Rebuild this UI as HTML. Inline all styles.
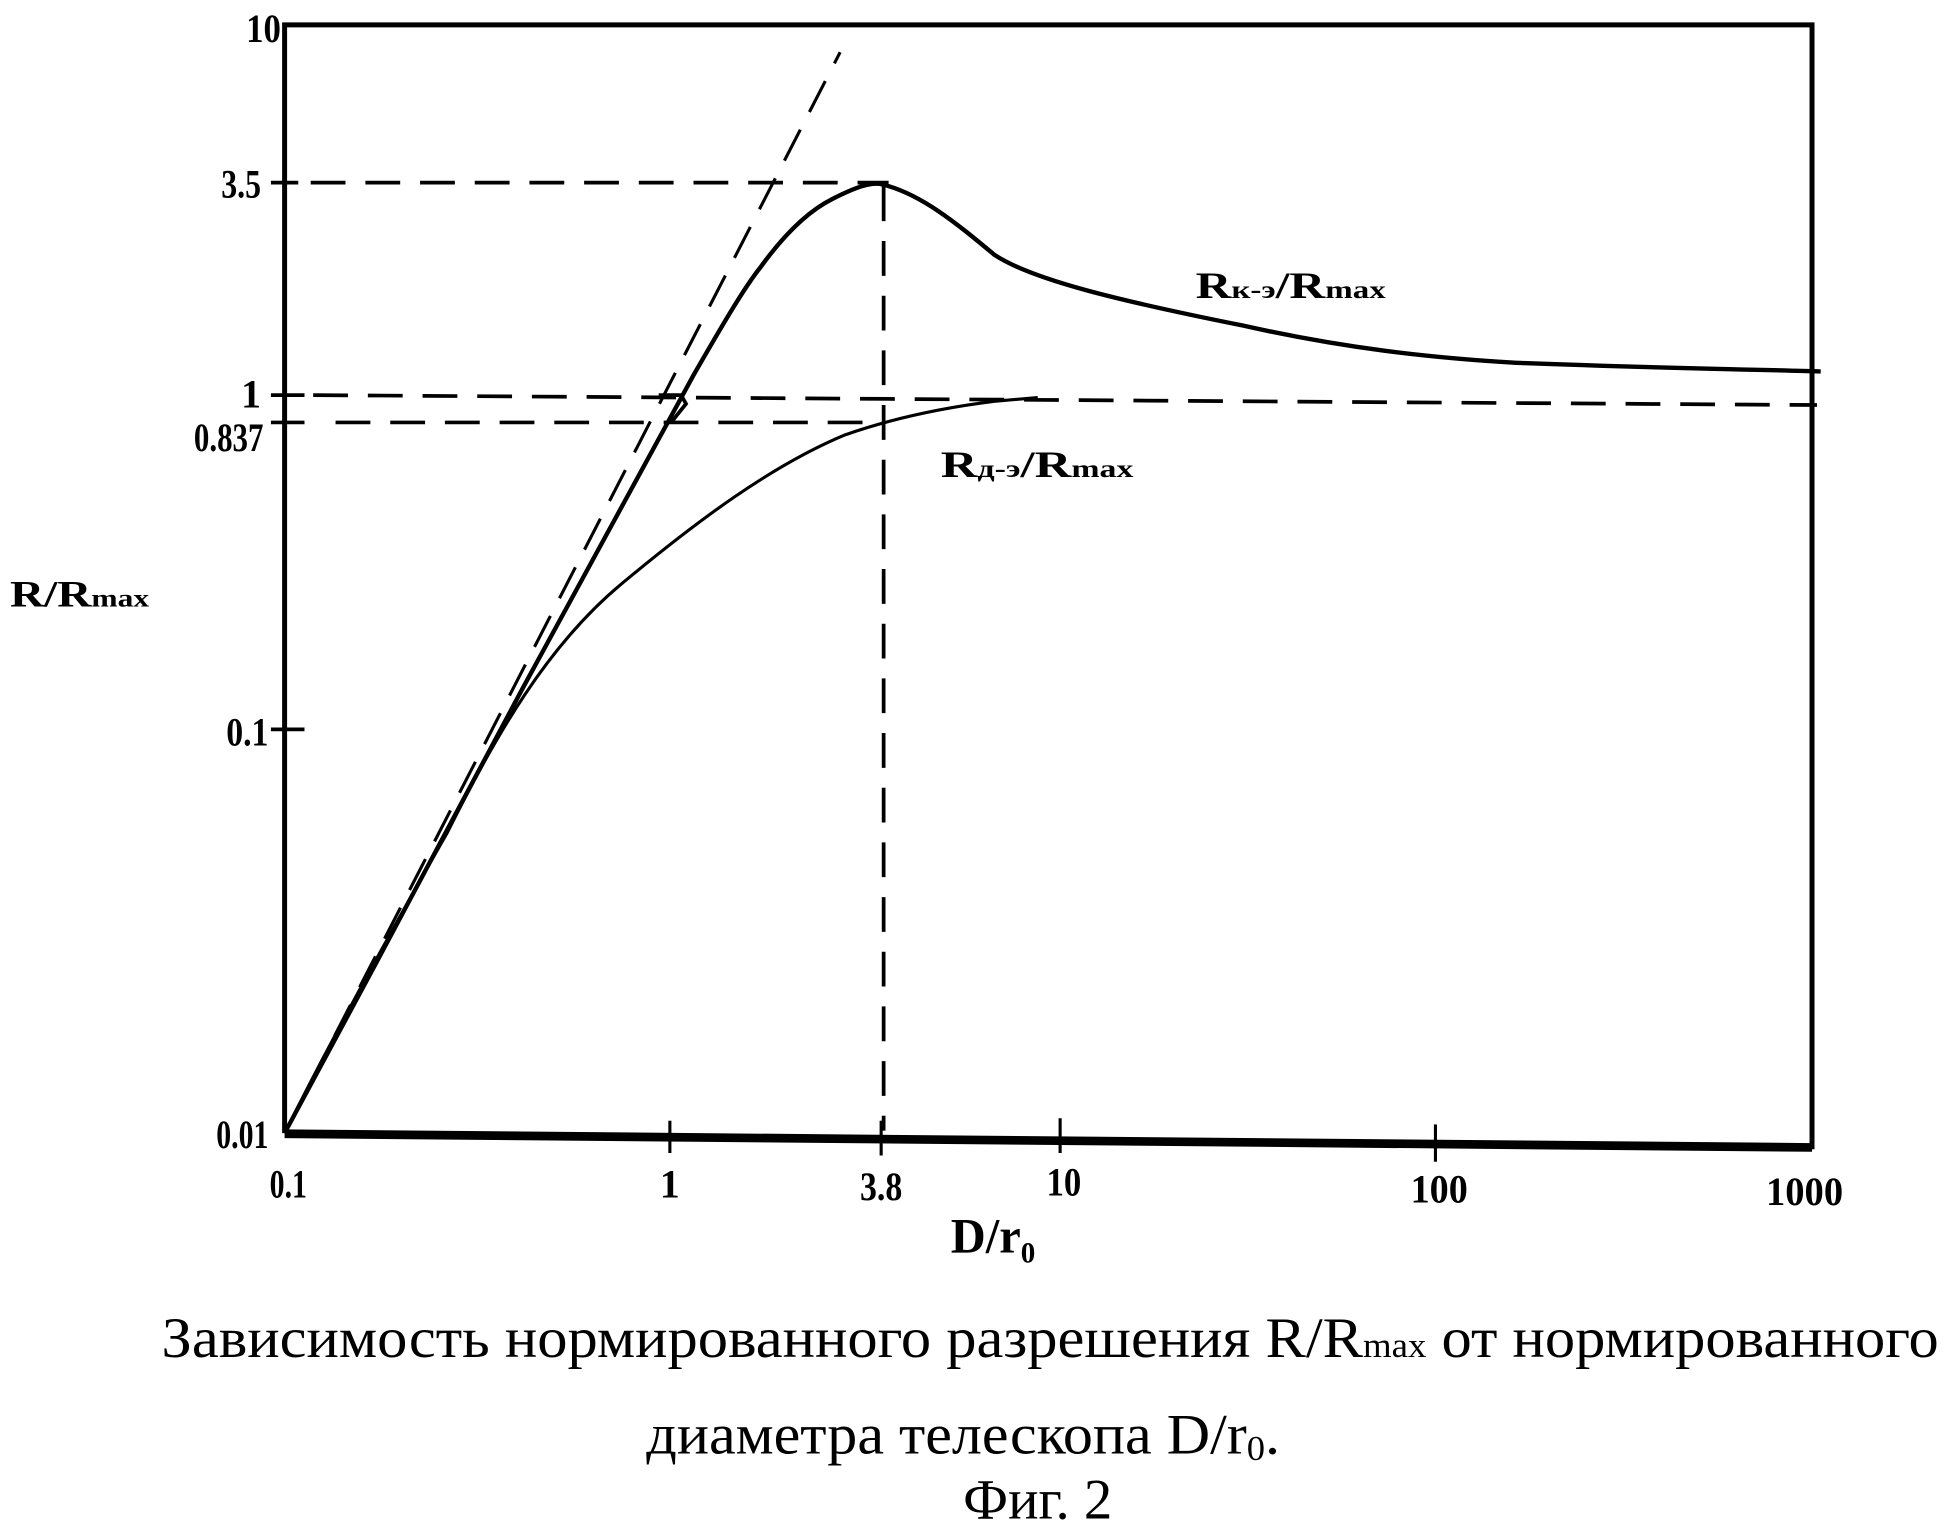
<!DOCTYPE html>
<html><head><meta charset="utf-8"><style>
html,body{margin:0;padding:0;background:#fff;}
svg{display:block;}
text{font-family:"Liberation Serif","DejaVu Serif",serif;fill:#000;}
.b{font-weight:bold;}
</style></head><body>
<svg width="1945" height="1527" viewBox="0 0 1565 1229" preserveAspectRatio="none" xmlns="http://www.w3.org/2000/svg">
<rect width="1565" height="1229" fill="#fff"/>
<polyline points="229,912 229,20 1458,20 1458,925" fill="none" stroke="#000" stroke-width="4"/>
<polygon points="229,909 1458,920 1458,927 229,916" fill="#000"/>
<g stroke="#000" stroke-width="2.5">
<line x1="539" y1="902" x2="539" y2="928"/>
<line x1="709" y1="902" x2="709" y2="930"/>
<line x1="853" y1="900" x2="853" y2="928"/>
<line x1="1155" y1="905" x2="1155" y2="935"/>
<line x1="218" y1="587" x2="245" y2="587" stroke-width="3"/>
<line x1="218" y1="147" x2="240" y2="147" stroke-width="3"/>
<line x1="218" y1="318" x2="245" y2="318" stroke-width="3"/>
<line x1="218" y1="340" x2="245" y2="340" stroke-width="3"/>
</g>
<g stroke="#000" stroke-width="3" fill="none" stroke-dasharray="28,16">
<line x1="250" y1="147" x2="715" y2="147"/>
<line x1="252" y1="318" x2="1462" y2="326"/>
<line x1="270" y1="340" x2="712" y2="340"/>
<line x1="711" y1="150" x2="711" y2="910"/>
<line x1="229" y1="912" x2="676" y2="42" stroke-width="2.5"/>
</g>
<path d="M229,912 L300,780 L420,555 L558,302 C585,255 600,230 612,215 C630,190 650,170 670,160 C690,150 700,147 708,148 C740,155 770,180 800,205 C830,225 900,242 1000,262 C1080,280 1150,288 1220,292 C1320,296 1400,297 1465,299" fill="none" stroke="#000" stroke-width="3.5"/>
<path d="M229,912 C270,830 320,740 360,670 C400,590 440,520 500,470 C560,420 620,375 680,350 C720,336 760,328 800,323 L835,320" fill="none" stroke="#000" stroke-width="2.5"/>
<path d="M530,318 L548,318 L552,325 L540,340" fill="none" stroke="#000" stroke-width="3"/>
<g class="b" font-size="32" text-anchor="end">
<text x="226" y="34" textLength="28" lengthAdjust="spacingAndGlyphs">10</text>
<text x="210" y="159" textLength="32" lengthAdjust="spacingAndGlyphs">3.5</text>
<text x="210" y="328">1</text>
<text x="212" y="363" textLength="56" lengthAdjust="spacingAndGlyphs">0.837</text>
<text x="216" y="600" textLength="34" lengthAdjust="spacingAndGlyphs">0.1</text>
<text x="216" y="924" textLength="42" lengthAdjust="spacingAndGlyphs">0.01</text>
</g>
<text class="b" x="8" y="488" font-size="30" textLength="112" lengthAdjust="spacingAndGlyphs">R/R<tspan font-size="20">max</tspan></text>
<g class="b" font-size="32" text-anchor="middle">
<text x="232" y="964" textLength="30" lengthAdjust="spacingAndGlyphs">0.1</text>
<text x="539" y="964">1</text>
<text x="709" y="966" textLength="34" lengthAdjust="spacingAndGlyphs">3.8</text>
<text x="856" y="962" textLength="28" lengthAdjust="spacingAndGlyphs">10</text>
<text x="1158" y="968" textLength="46" lengthAdjust="spacingAndGlyphs">100</text>
<text x="1452" y="970" textLength="62" lengthAdjust="spacingAndGlyphs">1000</text>
</g>
<text class="b" x="765" y="1008" font-size="40" textLength="68" lengthAdjust="spacingAndGlyphs">D/r<tspan font-size="24" dy="8">0</tspan></text>
<text class="b" x="962" y="240" font-size="30" textLength="153" lengthAdjust="spacingAndGlyphs">R<tspan font-size="20">к-э</tspan>/R<tspan font-size="20">max</tspan></text>
<text class="b" x="757" y="384" font-size="30" textLength="155" lengthAdjust="spacingAndGlyphs">R<tspan font-size="20">д-э</tspan>/R<tspan font-size="20">max</tspan></text>
<text x="130" y="1092" font-size="46" textLength="1430" lengthAdjust="spacingAndGlyphs">Зависимость нормированного разрешения R/R<tspan font-size="28">max</tspan> от нормированного</text>
<text x="520" y="1170" font-size="46" textLength="510" lengthAdjust="spacingAndGlyphs">диаметра телескопа D/r<tspan font-size="28" dy="5">0</tspan><tspan dy="-5">.</tspan></text>
<text x="775" y="1222" font-size="46" textLength="120" lengthAdjust="spacingAndGlyphs">Фиг. 2</text>
</svg>
</body></html>
